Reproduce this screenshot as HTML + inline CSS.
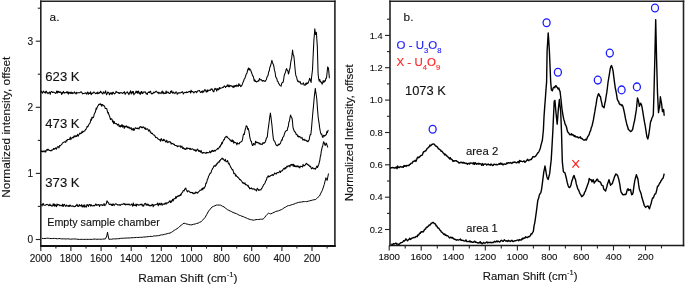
<!DOCTYPE html>
<html><head><meta charset="utf-8"><style>
html,body{margin:0;padding:0;background:#fff;}
svg{display:block;will-change:transform;}
text{font-family:"Liberation Sans",sans-serif;fill:#111;stroke:#111;stroke-width:0.12px;}
</style></head><body>
<svg width="685" height="285" viewBox="0 0 685 285">
<line x1="40.0" y1="1.2" x2="335.7" y2="1.2" stroke="#222" stroke-width="1.6"/>
<line x1="40.8" y1="0.4" x2="40.8" y2="246.8" stroke="#222" stroke-width="1.6"/>
<line x1="334.9" y1="0.4" x2="334.9" y2="246.8" stroke="#222" stroke-width="1.6"/>
<line x1="40.0" y1="246.0" x2="335.7" y2="246.0" stroke="#111" stroke-width="1.9"/>
<line x1="389.2" y1="1.2" x2="684.3" y2="1.2" stroke="#222" stroke-width="1.6"/>
<line x1="390.0" y1="0.4" x2="390.0" y2="246.3" stroke="#222" stroke-width="1.6"/>
<line x1="683.5" y1="0.4" x2="683.5" y2="246.3" stroke="#222" stroke-width="1.6"/>
<line x1="389.2" y1="245.5" x2="684.3" y2="245.5" stroke="#1a1a1a" stroke-width="1.7"/>
<line x1="35.8" y1="239.5" x2="40.8" y2="239.5" stroke="#222" stroke-width="1.1"/>
<text x="33.199999999999996" y="243.0" text-anchor="end" style="font-size:10.1px">0</text>
<line x1="37.8" y1="206.4" x2="40.8" y2="206.4" stroke="#222" stroke-width="1.1"/>
<line x1="35.8" y1="173.4" x2="40.8" y2="173.4" stroke="#222" stroke-width="1.1"/>
<text x="33.199999999999996" y="176.9" text-anchor="end" style="font-size:10.1px">1</text>
<line x1="37.8" y1="140.4" x2="40.8" y2="140.4" stroke="#222" stroke-width="1.1"/>
<line x1="35.8" y1="107.3" x2="40.8" y2="107.3" stroke="#222" stroke-width="1.1"/>
<text x="33.199999999999996" y="110.8" text-anchor="end" style="font-size:10.1px">2</text>
<line x1="37.8" y1="74.2" x2="40.8" y2="74.2" stroke="#222" stroke-width="1.1"/>
<line x1="35.8" y1="41.2" x2="40.8" y2="41.2" stroke="#222" stroke-width="1.1"/>
<text x="33.199999999999996" y="44.7" text-anchor="end" style="font-size:10.1px">3</text>
<line x1="37.8" y1="8.2" x2="40.8" y2="8.2" stroke="#222" stroke-width="1.1"/>
<line x1="40.8" y1="245.6" x2="40.8" y2="251.1" stroke="#222" stroke-width="1.1"/>
<text x="40.8" y="261.5" text-anchor="middle" style="font-size:10px">2000</text>
<line x1="55.9" y1="245.6" x2="55.9" y2="248.6" stroke="#222" stroke-width="1.1"/>
<line x1="70.9" y1="245.6" x2="70.9" y2="251.1" stroke="#222" stroke-width="1.1"/>
<text x="70.9" y="261.5" text-anchor="middle" style="font-size:10px">1800</text>
<line x1="86.0" y1="245.6" x2="86.0" y2="248.6" stroke="#222" stroke-width="1.1"/>
<line x1="101.1" y1="245.6" x2="101.1" y2="251.1" stroke="#222" stroke-width="1.1"/>
<text x="101.1" y="261.5" text-anchor="middle" style="font-size:10px">1600</text>
<line x1="116.1" y1="245.6" x2="116.1" y2="248.6" stroke="#222" stroke-width="1.1"/>
<line x1="131.2" y1="245.6" x2="131.2" y2="251.1" stroke="#222" stroke-width="1.1"/>
<text x="131.2" y="261.5" text-anchor="middle" style="font-size:10px">1400</text>
<line x1="146.3" y1="245.6" x2="146.3" y2="248.6" stroke="#222" stroke-width="1.1"/>
<line x1="161.3" y1="245.6" x2="161.3" y2="251.1" stroke="#222" stroke-width="1.1"/>
<text x="161.3" y="261.5" text-anchor="middle" style="font-size:10px">1200</text>
<line x1="176.4" y1="245.6" x2="176.4" y2="248.6" stroke="#222" stroke-width="1.1"/>
<line x1="191.5" y1="245.6" x2="191.5" y2="251.1" stroke="#222" stroke-width="1.1"/>
<text x="191.5" y="261.5" text-anchor="middle" style="font-size:10px">1000</text>
<line x1="206.5" y1="245.6" x2="206.5" y2="248.6" stroke="#222" stroke-width="1.1"/>
<line x1="221.6" y1="245.6" x2="221.6" y2="251.1" stroke="#222" stroke-width="1.1"/>
<text x="221.6" y="261.5" text-anchor="middle" style="font-size:10px">800</text>
<line x1="236.7" y1="245.6" x2="236.7" y2="248.6" stroke="#222" stroke-width="1.1"/>
<line x1="251.7" y1="245.6" x2="251.7" y2="251.1" stroke="#222" stroke-width="1.1"/>
<text x="251.7" y="261.5" text-anchor="middle" style="font-size:10px">600</text>
<line x1="266.8" y1="245.6" x2="266.8" y2="248.6" stroke="#222" stroke-width="1.1"/>
<line x1="281.9" y1="245.6" x2="281.9" y2="251.1" stroke="#222" stroke-width="1.1"/>
<text x="281.9" y="261.5" text-anchor="middle" style="font-size:10px">400</text>
<line x1="296.9" y1="245.6" x2="296.9" y2="248.6" stroke="#222" stroke-width="1.1"/>
<line x1="312.0" y1="245.6" x2="312.0" y2="251.1" stroke="#222" stroke-width="1.1"/>
<text x="312.0" y="261.5" text-anchor="middle" style="font-size:10px">200</text>
<line x1="327.1" y1="245.6" x2="327.1" y2="248.6" stroke="#222" stroke-width="1.1"/>
<line x1="385.0" y1="229.5" x2="390.0" y2="229.5" stroke="#222" stroke-width="1.1"/>
<text x="382.6" y="232.7" text-anchor="end" style="font-size:9.3px">0.2</text>
<line x1="387.0" y1="213.4" x2="390.0" y2="213.4" stroke="#222" stroke-width="1.1"/>
<line x1="385.0" y1="197.2" x2="390.0" y2="197.2" stroke="#222" stroke-width="1.1"/>
<text x="382.6" y="200.4" text-anchor="end" style="font-size:9.3px">0.4</text>
<line x1="387.0" y1="181.0" x2="390.0" y2="181.0" stroke="#222" stroke-width="1.1"/>
<line x1="385.0" y1="164.8" x2="390.0" y2="164.8" stroke="#222" stroke-width="1.1"/>
<text x="382.6" y="168.0" text-anchor="end" style="font-size:9.3px">0.6</text>
<line x1="387.0" y1="148.6" x2="390.0" y2="148.6" stroke="#222" stroke-width="1.1"/>
<line x1="385.0" y1="132.5" x2="390.0" y2="132.5" stroke="#222" stroke-width="1.1"/>
<text x="382.6" y="135.7" text-anchor="end" style="font-size:9.3px">0.8</text>
<line x1="387.0" y1="116.3" x2="390.0" y2="116.3" stroke="#222" stroke-width="1.1"/>
<line x1="385.0" y1="100.1" x2="390.0" y2="100.1" stroke="#222" stroke-width="1.1"/>
<text x="382.6" y="103.3" text-anchor="end" style="font-size:9.3px">1.0</text>
<line x1="387.0" y1="83.9" x2="390.0" y2="83.9" stroke="#222" stroke-width="1.1"/>
<line x1="385.0" y1="67.7" x2="390.0" y2="67.7" stroke="#222" stroke-width="1.1"/>
<text x="382.6" y="70.9" text-anchor="end" style="font-size:9.3px">1.2</text>
<line x1="387.0" y1="51.6" x2="390.0" y2="51.6" stroke="#222" stroke-width="1.1"/>
<line x1="385.0" y1="35.4" x2="390.0" y2="35.4" stroke="#222" stroke-width="1.1"/>
<text x="382.6" y="38.6" text-anchor="end" style="font-size:9.3px">1.4</text>
<line x1="387.0" y1="19.2" x2="390.0" y2="19.2" stroke="#222" stroke-width="1.1"/>
<line x1="389.2" y1="245.4" x2="389.2" y2="250.4" stroke="#222" stroke-width="1.1"/>
<text x="389.2" y="259.8" text-anchor="middle" style="font-size:9.7px">1800</text>
<line x1="405.2" y1="245.4" x2="405.2" y2="248.4" stroke="#222" stroke-width="1.1"/>
<line x1="421.2" y1="245.4" x2="421.2" y2="250.4" stroke="#222" stroke-width="1.1"/>
<text x="421.2" y="259.8" text-anchor="middle" style="font-size:9.7px">1600</text>
<line x1="437.3" y1="245.4" x2="437.3" y2="248.4" stroke="#222" stroke-width="1.1"/>
<line x1="453.3" y1="245.4" x2="453.3" y2="250.4" stroke="#222" stroke-width="1.1"/>
<text x="453.3" y="259.8" text-anchor="middle" style="font-size:9.7px">1400</text>
<line x1="469.3" y1="245.4" x2="469.3" y2="248.4" stroke="#222" stroke-width="1.1"/>
<line x1="485.3" y1="245.4" x2="485.3" y2="250.4" stroke="#222" stroke-width="1.1"/>
<text x="485.3" y="259.8" text-anchor="middle" style="font-size:9.7px">1200</text>
<line x1="501.3" y1="245.4" x2="501.3" y2="248.4" stroke="#222" stroke-width="1.1"/>
<line x1="517.4" y1="245.4" x2="517.4" y2="250.4" stroke="#222" stroke-width="1.1"/>
<text x="517.4" y="259.8" text-anchor="middle" style="font-size:9.7px">1000</text>
<line x1="533.4" y1="245.4" x2="533.4" y2="248.4" stroke="#222" stroke-width="1.1"/>
<line x1="549.4" y1="245.4" x2="549.4" y2="250.4" stroke="#222" stroke-width="1.1"/>
<text x="549.4" y="259.8" text-anchor="middle" style="font-size:9.7px">800</text>
<line x1="565.4" y1="245.4" x2="565.4" y2="248.4" stroke="#222" stroke-width="1.1"/>
<line x1="581.4" y1="245.4" x2="581.4" y2="250.4" stroke="#222" stroke-width="1.1"/>
<text x="581.4" y="259.8" text-anchor="middle" style="font-size:9.7px">600</text>
<line x1="597.4" y1="245.4" x2="597.4" y2="248.4" stroke="#222" stroke-width="1.1"/>
<line x1="613.5" y1="245.4" x2="613.5" y2="250.4" stroke="#222" stroke-width="1.1"/>
<text x="613.5" y="259.8" text-anchor="middle" style="font-size:9.7px">400</text>
<line x1="629.5" y1="245.4" x2="629.5" y2="248.4" stroke="#222" stroke-width="1.1"/>
<line x1="645.5" y1="245.4" x2="645.5" y2="250.4" stroke="#222" stroke-width="1.1"/>
<text x="645.5" y="259.8" text-anchor="middle" style="font-size:9.7px">200</text>
<line x1="661.5" y1="245.4" x2="661.5" y2="248.4" stroke="#222" stroke-width="1.1"/>
<text x="138.3" y="281.8" style="font-size:11px" textLength="99.3" lengthAdjust="spacingAndGlyphs">Raman Shift (cm<tspan dy="-5.3" style="font-size:7.2px">-1</tspan><tspan dy="5.3">)</tspan></text>
<text x="482.8" y="280.4" style="font-size:10.5px" textLength="94.8" lengthAdjust="spacingAndGlyphs">Raman Shift (cm<tspan dy="-5" style="font-size:7px">-1</tspan><tspan dy="5">)</tspan></text>
<text transform="translate(9.9,127.2) rotate(-90)" text-anchor="middle" style="font-size:11px" textLength="141" lengthAdjust="spacingAndGlyphs">Normalized intensity, offset</text>
<text transform="translate(352.9,132.8) rotate(-90)" text-anchor="middle" style="font-size:10.5px" textLength="137" lengthAdjust="spacingAndGlyphs">Normalized Intensity, offset</text>
<text x="49.6" y="21" style="font-size:11.8px;">a.</text>
<text x="403.6" y="21.1" style="font-size:11.8px;">b.</text>
<text x="45.3" y="81.3" textLength="34.3" lengthAdjust="spacingAndGlyphs" style="font-size:13px;">623 K</text>
<text x="45.3" y="127.6" textLength="34.3" lengthAdjust="spacingAndGlyphs" style="font-size:13px;">473 K</text>
<text x="45.3" y="186.9" textLength="34.3" lengthAdjust="spacingAndGlyphs" style="font-size:13px;">373 K</text>
<text x="47.3" y="225.9" textLength="112.5" lengthAdjust="spacingAndGlyphs" style="font-size:10.3px;" stroke="#111" stroke-width="0.25">Empty sample chamber</text>
<text x="405.0" y="94.9" textLength="40.7" lengthAdjust="spacingAndGlyphs" style="font-size:12.7px;">1073 K</text>
<text x="466" y="154.6" textLength="32.2" lengthAdjust="spacingAndGlyphs" style="font-size:10px;">area 2</text>
<text x="466.3" y="231.7" textLength="31.5" lengthAdjust="spacingAndGlyphs" style="font-size:10px;">area 1</text>
<text x="396.5" y="49.4" style="font-size:11.5px;fill:#2222ff;stroke:#2222ff;stroke-width:0.15px">O - U<tspan dy="4" style="font-size:7.6px">3</tspan><tspan dy="-4">O</tspan><tspan dy="4" style="font-size:7.6px">8</tspan></text>
<text x="396.5" y="66.1" style="font-size:11.5px;fill:#ff2222;stroke:#ff2222;stroke-width:0.15px">X - U<tspan dy="4" style="font-size:7.6px">4</tspan><tspan dy="-4">O</tspan><tspan dy="4" style="font-size:7.6px">9</tspan></text>
<polyline points="41.00,92.20 41.54,91.17 42.09,92.54 42.63,93.07 43.17,91.80 43.71,91.11 44.26,92.20 44.80,92.67 45.34,93.20 45.89,91.24 46.43,91.19 46.97,92.89 47.51,92.71 48.06,93.62 48.60,93.16 49.14,92.24 49.69,92.10 50.23,94.35 50.77,92.11 51.31,91.70 51.86,91.40 52.40,92.46 52.94,92.51 53.49,92.10 54.03,92.35 54.57,92.65 55.11,93.01 55.66,93.36 56.20,92.62 56.74,90.93 57.29,93.05 57.83,91.26 58.37,92.33 58.91,91.23 59.46,92.49 60.00,92.50 60.56,91.84 61.11,92.69 61.67,94.51 62.22,92.47 62.78,93.23 63.33,91.39 63.89,92.27 64.44,93.09 65.00,92.45 65.56,92.84 66.11,92.62 66.67,91.68 67.22,93.02 67.78,91.85 68.33,94.13 68.89,92.12 69.44,93.13 70.00,92.55 70.56,93.36 71.11,92.04 71.67,93.41 72.22,92.46 72.78,93.64 73.33,93.10 73.89,92.69 74.44,91.91 75.00,93.23 75.56,92.98 76.11,93.98 76.67,92.26 77.22,93.06 77.78,93.02 78.33,92.83 78.89,92.77 79.44,92.75 80.00,92.60 80.56,92.09 81.11,91.74 81.67,92.27 82.22,93.11 82.78,93.90 83.33,93.45 83.89,93.51 84.44,93.28 85.00,93.22 85.56,92.78 86.11,93.29 86.67,94.14 87.22,92.36 87.78,92.05 88.33,94.31 88.89,92.85 89.44,93.47 90.00,93.39 90.56,91.69 91.11,94.66 91.67,94.17 92.22,92.81 92.78,93.30 93.33,92.77 93.89,91.92 94.44,92.58 95.00,92.99 95.56,93.63 96.11,93.28 96.67,92.73 97.22,93.84 97.78,92.04 98.33,93.37 98.89,93.64 99.44,92.45 100.00,92.70 100.56,91.18 101.11,91.94 101.67,92.91 102.22,93.16 102.78,94.03 103.33,91.86 103.89,92.72 104.44,93.27 105.00,92.59 105.56,90.73 106.11,93.42 106.67,94.70 107.22,93.59 107.78,91.96 108.33,92.39 108.89,92.93 109.44,94.75 110.00,93.27 110.56,92.85 111.11,94.08 111.67,92.69 112.22,94.34 112.78,92.18 113.33,92.36 113.89,93.38 114.44,93.98 115.00,93.33 115.56,93.03 116.11,91.23 116.67,92.18 117.22,92.27 117.78,92.34 118.33,93.29 118.89,92.51 119.44,93.47 120.00,92.80 120.56,92.87 121.11,92.52 121.67,92.90 122.22,93.16 122.78,93.53 123.33,92.39 123.89,92.60 124.44,91.64 125.00,94.16 125.56,94.03 126.11,92.65 126.67,92.39 127.22,91.75 127.78,92.94 128.33,92.98 128.89,94.65 129.44,93.01 130.00,92.14 130.56,90.80 131.11,94.00 131.67,92.96 132.22,91.43 132.78,92.95 133.33,91.43 133.89,94.80 134.44,93.75 135.00,93.29 135.56,92.65 136.11,90.98 136.67,92.69 137.22,91.48 137.78,93.31 138.33,90.98 138.89,92.03 139.44,93.84 140.00,92.80 140.56,94.19 141.11,91.78 141.67,91.48 142.22,93.53 142.78,93.50 143.33,91.93 143.89,92.17 144.44,92.17 145.00,91.74 145.56,92.17 146.11,93.80 146.67,93.32 147.22,94.48 147.78,92.65 148.33,92.60 148.89,91.88 149.44,92.60 150.00,91.58 150.56,91.18 151.11,93.28 151.67,93.91 152.22,93.39 152.78,93.80 153.33,92.88 153.89,92.05 154.44,92.73 155.00,92.33 155.56,91.70 156.11,91.20 156.67,91.37 157.22,92.62 157.78,92.75 158.33,92.21 158.89,93.83 159.44,92.76 160.00,92.60 160.56,93.10 161.11,93.65 161.67,91.92 162.22,90.95 162.78,93.27 163.33,92.05 163.89,93.75 164.44,92.93 165.00,93.51 165.56,93.30 166.11,90.89 166.67,93.28 167.22,92.10 167.78,92.04 168.33,92.31 168.89,93.34 169.44,93.45 170.00,93.56 170.56,91.29 171.11,92.21 171.67,90.72 172.22,92.64 172.78,93.24 173.33,92.08 173.89,92.95 174.44,92.94 175.00,93.61 175.56,92.06 176.11,92.06 176.67,92.12 177.22,94.26 177.78,93.70 178.33,92.68 178.89,92.98 179.44,92.89 180.00,92.80 180.56,92.94 181.11,92.56 181.67,92.42 182.22,91.61 182.78,92.10 183.33,94.02 183.89,93.04 184.44,92.61 185.00,92.34 185.56,92.55 186.11,92.76 186.67,91.88 187.22,92.57 187.78,92.58 188.33,91.71 188.89,91.64 189.44,91.43 190.00,91.35 190.56,92.98 191.11,90.19 191.67,91.93 192.22,91.61 192.78,91.57 193.33,92.15 193.89,92.99 194.44,92.07 195.00,91.86 195.56,91.42 196.11,91.80 196.67,92.66 197.22,91.52 197.78,90.85 198.33,90.72 198.89,90.82 199.44,90.55 200.00,91.70 200.56,92.57 201.11,91.87 201.67,91.30 202.22,92.67 202.78,90.81 203.33,91.94 203.89,91.91 204.44,89.85 205.00,89.78 205.56,90.24 206.11,91.74 206.67,92.00 207.22,89.79 207.78,91.66 208.33,90.37 208.89,90.30 209.44,90.10 210.00,90.50 210.56,90.13 211.11,88.77 211.67,89.37 212.22,89.07 212.78,90.44 213.33,91.71 213.89,91.84 214.44,89.46 215.00,88.19 215.56,89.21 216.11,88.66 216.67,91.05 217.22,89.76 217.78,88.56 218.33,89.88 218.89,89.44 219.44,87.51 220.00,88.80 220.56,88.08 221.11,88.06 221.67,88.02 222.22,87.85 222.78,87.18 223.33,87.36 223.89,86.44 224.44,85.90 225.00,86.40 225.56,87.62 226.11,86.57 226.67,86.57 227.22,84.78 227.78,85.93 228.33,86.70 228.89,84.84 229.44,86.80 230.00,85.80 230.56,85.54 231.11,86.28 231.67,85.89 232.22,86.25 232.78,87.16 233.33,85.86 233.89,87.60 234.44,85.67 235.00,86.40 235.56,85.43 236.11,86.65 236.67,84.96 237.22,85.37 237.78,86.28 238.33,86.36 238.89,83.65 239.44,85.41 240.00,84.80 240.63,86.60 241.27,86.22 241.90,85.40 242.48,83.84 243.06,82.17 243.64,81.07 244.22,78.98 244.80,78.60 245.35,76.78 245.90,75.24 246.45,73.68 247.00,73.21 247.55,70.40 248.10,69.00 248.60,67.94 249.10,70.25 249.60,68.63 250.10,69.34 250.60,69.90 251.23,71.72 251.87,73.47 252.50,75.70 253.08,76.01 253.66,77.81 254.24,81.04 254.82,79.82 255.40,81.50 255.98,81.18 256.56,82.06 257.14,81.53 257.72,81.35 258.30,80.50 258.88,81.05 259.46,78.47 260.04,79.23 260.62,79.89 261.20,79.60 261.76,80.30 262.31,81.24 262.87,80.81 263.43,80.48 263.99,80.99 264.54,81.05 265.10,81.50 265.68,80.55 266.26,79.75 266.84,77.73 267.42,76.17 268.00,75.70 268.63,72.07 269.27,70.83 269.90,67.00 270.40,66.41 270.90,64.49 271.40,62.70 271.90,60.30 272.53,62.91 273.17,64.10 273.80,66.00 274.43,70.13 275.07,72.24 275.70,76.70 276.28,77.87 276.86,78.76 277.44,81.34 278.02,81.57 278.60,83.40 279.23,84.11 279.87,85.34 280.50,85.80 281.10,86.13 281.70,83.48 282.30,82.53 282.90,82.50 283.53,80.29 284.17,75.76 284.80,73.80 285.43,72.45 286.07,69.85 286.70,68.60 287.27,70.31 287.83,70.65 288.40,74.00 288.93,72.71 289.47,69.77 290.00,68.30 290.60,63.34 291.20,59.90 291.67,58.40 292.13,53.97 292.60,50.10 293.07,54.43 293.53,55.11 294.00,57.10 294.47,61.94 294.93,67.46 295.40,72.50 295.95,75.99 296.50,76.73 297.05,79.26 297.60,81.00 298.12,81.79 298.65,80.93 299.18,82.16 299.70,81.97 300.23,81.69 300.75,83.84 301.28,84.02 301.80,83.80 302.37,84.10 302.93,83.50 303.50,82.80 304.07,85.15 304.63,84.88 305.20,85.20 305.76,83.37 306.32,84.35 306.88,82.71 307.44,83.58 308.00,83.20 308.57,81.65 309.13,80.17 309.70,78.20 310.17,79.78 310.63,81.15 311.10,82.40 311.57,77.20 312.03,73.61 312.50,69.70 312.97,59.47 313.43,49.90 313.90,40.30 314.35,34.78 314.80,28.80 315.60,34.60 316.40,32.30 316.85,39.63 317.30,45.90 318.10,74.00 318.65,78.89 319.20,81.00 319.77,79.35 320.35,82.04 320.93,81.88 321.50,82.40 322.06,84.21 322.62,82.95 323.18,80.63 323.74,82.26 324.30,81.80 324.85,80.46 325.40,80.84 325.95,78.20 326.50,78.20 327.10,72.46 327.70,66.90 328.50,68.30 328.95,73.14 329.40,78.20" fill="none" stroke="#000" stroke-width="1.05" stroke-linejoin="round" stroke-opacity="1.0"/>
<polyline points="41.20,152.00 41.76,150.74 42.33,151.87 42.89,151.32 43.45,151.01 44.02,151.97 44.58,151.12 45.15,150.71 45.71,152.14 46.27,150.23 46.84,149.49 47.40,150.30 47.96,149.12 48.52,149.64 49.08,150.41 49.65,150.43 50.21,150.52 50.77,150.93 51.33,150.70 51.89,149.76 52.45,150.16 53.02,149.52 53.58,148.46 54.14,149.40 54.70,148.60 55.23,148.40 55.76,147.90 56.29,149.32 56.81,148.09 57.34,146.84 57.87,146.87 58.40,146.60 58.96,147.95 59.53,145.56 60.09,145.87 60.65,145.34 61.22,144.81 61.78,144.42 62.35,143.15 62.91,142.72 63.47,142.51 64.04,141.91 64.60,141.70 65.17,142.08 65.74,142.37 66.31,140.20 66.88,141.03 67.45,139.56 68.02,139.50 68.58,139.57 69.15,139.55 69.72,138.84 70.29,137.05 70.86,139.69 71.43,138.12 72.00,138.00 72.56,137.27 73.12,138.00 73.68,136.73 74.25,135.80 74.81,137.00 75.37,136.66 75.93,135.41 76.49,136.42 77.05,135.77 77.62,134.32 78.18,136.27 78.74,134.83 79.30,134.30 79.86,133.02 80.43,133.80 80.99,133.10 81.55,133.31 82.12,131.07 82.68,132.48 83.25,131.95 83.81,131.32 84.37,130.81 84.94,130.91 85.50,129.40 86.04,129.18 86.59,127.90 87.13,126.33 87.68,127.01 88.22,126.09 88.77,124.74 89.31,123.80 89.86,123.42 90.40,122.00 90.93,119.16 91.46,120.20 91.99,117.07 92.51,118.06 93.04,117.65 93.57,117.25 94.10,114.70 94.61,113.15 95.13,112.62 95.64,111.00 96.16,108.10 96.67,109.16 97.19,107.35 97.70,106.10 98.20,105.69 98.70,104.41 99.20,104.61 99.70,104.20 100.20,103.60 100.73,104.91 101.27,104.43 101.80,106.25 102.33,104.45 102.87,104.85 103.40,105.30 103.98,105.94 104.56,105.99 105.14,108.43 105.72,108.40 106.30,108.50 106.81,108.78 107.33,111.08 107.84,113.11 108.36,112.35 108.87,114.79 109.39,115.72 109.90,117.10 110.44,119.59 110.99,118.84 111.53,118.89 112.08,119.46 112.62,122.05 113.17,120.91 113.71,123.72 114.26,121.44 114.80,123.30 115.34,123.45 115.89,123.68 116.43,123.59 116.98,124.24 117.52,125.21 118.07,124.42 118.61,124.09 119.16,126.51 119.70,125.70 120.27,127.01 120.84,125.46 121.41,126.37 121.98,124.42 122.55,127.20 123.12,125.49 123.68,126.22 124.25,128.46 124.82,125.93 125.39,127.06 125.96,126.34 126.53,125.87 127.10,127.40 127.67,126.69 128.24,127.95 128.81,126.88 129.38,127.59 129.95,128.77 130.52,128.24 131.08,127.50 131.65,129.83 132.22,128.91 132.79,130.06 133.36,128.32 133.93,130.59 134.50,129.40 135.07,128.20 135.64,127.70 136.21,128.53 136.78,128.38 137.35,128.68 137.92,127.85 138.48,128.58 139.05,128.93 139.62,127.20 140.19,126.45 140.76,127.01 141.33,127.76 141.90,126.90 142.45,127.79 143.01,127.12 143.56,126.85 144.12,127.83 144.67,128.82 145.23,127.74 145.78,129.53 146.34,128.93 146.89,129.20 147.45,128.72 148.00,129.40 148.54,131.03 149.09,130.56 149.63,129.91 150.18,132.25 150.72,131.83 151.27,133.54 151.81,133.38 152.36,133.30 152.90,134.30 153.44,134.96 153.99,134.93 154.53,135.16 155.08,136.31 155.62,137.42 156.17,137.32 156.71,137.69 157.26,137.82 157.80,138.70 158.36,139.34 158.93,139.27 159.49,139.97 160.05,139.67 160.62,141.20 161.18,138.50 161.75,139.84 162.31,140.46 162.87,140.90 163.44,139.18 164.00,140.50 164.55,139.77 165.11,140.86 165.66,141.89 166.22,142.11 166.77,140.27 167.33,141.72 167.88,142.71 168.44,142.01 168.99,141.37 169.55,141.80 170.10,142.50 170.63,141.82 171.17,144.10 171.70,143.30 172.23,143.49 172.77,143.47 173.30,144.36 173.83,144.08 174.37,144.35 174.90,145.40 175.44,145.48 175.99,145.41 176.53,146.02 177.08,145.86 177.62,146.74 178.17,145.86 178.71,146.18 179.26,146.23 179.80,146.10 180.34,145.79 180.89,147.61 181.43,146.53 181.98,146.02 182.52,148.49 183.07,148.30 183.61,147.64 184.16,149.09 184.70,148.60 185.27,149.42 185.84,149.25 186.41,147.84 186.98,148.92 187.55,148.02 188.12,148.39 188.68,148.47 189.25,148.28 189.82,149.36 190.39,148.41 190.96,149.54 191.53,149.23 192.10,149.10 192.66,148.77 193.23,149.48 193.79,149.99 194.35,150.45 194.92,149.48 195.48,151.13 196.05,150.34 196.61,150.97 197.17,149.07 197.74,149.40 198.30,150.30 198.85,151.48 199.41,150.59 199.96,151.35 200.52,152.13 201.07,150.31 201.63,151.99 202.18,153.36 202.74,152.69 203.29,152.36 203.85,152.95 204.40,152.70 204.94,152.66 205.49,153.17 206.03,153.50 206.58,152.25 207.12,152.79 207.67,152.50 208.21,152.76 208.76,152.76 209.30,152.00 209.86,151.11 210.43,152.75 210.99,152.42 211.55,150.82 212.12,151.36 212.68,150.36 213.25,151.17 213.81,151.56 214.37,150.32 214.94,150.53 215.50,151.00 216.01,149.90 216.53,149.58 217.04,149.06 217.56,148.38 218.07,149.18 218.59,148.12 219.10,147.80 219.63,146.33 220.16,146.85 220.69,144.78 221.21,145.04 221.74,142.52 222.27,143.69 222.80,141.70 223.33,140.61 223.86,139.46 224.39,139.73 224.91,137.62 225.44,137.04 225.97,137.29 226.50,136.30 227.00,136.44 227.50,137.60 228.00,137.88 228.50,138.45 229.00,138.70 229.53,139.26 230.06,140.14 230.59,140.02 231.11,141.30 231.64,141.60 232.17,139.79 232.70,141.70 233.21,140.55 233.73,143.27 234.24,141.90 234.76,142.56 235.27,142.50 235.79,142.97 236.30,142.90 236.88,144.83 237.46,142.79 238.04,143.58 238.62,143.73 239.20,143.90 239.76,142.54 240.32,142.14 240.88,142.04 241.44,141.68 242.00,141.10 242.56,139.47 243.12,135.70 243.68,134.04 244.24,134.56 244.80,131.30 245.27,129.32 245.73,128.23 246.20,125.70 246.70,126.11 247.20,126.58 247.70,129.46 248.20,128.50 248.75,130.38 249.30,133.43 249.85,137.45 250.40,139.70 250.90,141.17 251.40,141.32 251.90,144.11 252.40,145.40 252.93,145.58 253.46,143.43 253.99,143.76 254.51,144.38 255.04,144.83 255.57,141.16 256.10,142.50 256.62,142.17 257.15,142.90 257.68,142.35 258.20,142.53 258.73,143.02 259.25,143.97 259.78,142.93 260.30,143.90 260.82,144.42 261.35,144.22 261.88,144.06 262.40,144.41 262.93,142.65 263.45,142.84 263.98,143.47 264.50,142.50 265.06,142.38 265.62,141.01 266.18,138.82 266.74,137.67 267.30,136.90 267.93,130.78 268.57,126.33 269.20,121.50 269.80,116.64 270.40,113.10 270.95,116.95 271.50,121.50 272.00,125.79 272.50,131.27 273.00,135.84 273.50,139.70 274.10,140.83 274.70,141.13 275.30,143.11 275.90,144.62 276.50,145.40 277.07,145.83 277.63,145.09 278.20,145.30 278.77,143.92 279.33,144.68 279.90,143.90 280.47,143.33 281.03,141.32 281.60,139.85 282.17,140.21 282.73,137.33 283.30,136.90 283.85,136.05 284.40,133.92 284.95,132.46 285.50,131.30 286.07,130.87 286.63,130.46 287.20,130.50 287.77,127.70 288.33,126.29 288.90,122.10 289.47,120.91 290.03,117.36 290.60,115.10 291.07,116.42 291.53,117.69 292.00,117.90 292.47,121.33 292.93,126.80 293.40,129.10 293.96,130.27 294.52,131.84 295.08,131.76 295.64,132.75 296.20,134.70 296.72,134.31 297.25,134.93 297.77,136.57 298.30,135.88 298.82,137.15 299.35,136.51 299.88,136.45 300.40,137.50 300.92,138.02 301.45,137.95 301.98,137.34 302.50,139.01 303.02,140.25 303.55,139.54 304.08,139.14 304.60,140.40 305.17,140.08 305.73,139.96 306.30,140.94 306.87,140.63 307.43,141.51 308.00,141.80 308.56,140.54 309.12,140.00 309.68,136.68 310.24,134.58 310.80,134.70 311.37,129.91 311.93,122.93 312.50,116.50 312.97,111.08 313.43,106.58 313.90,101.00 314.37,96.12 314.83,92.37 315.30,88.40 315.77,92.21 316.23,94.72 316.70,98.20 317.17,104.43 317.63,110.76 318.10,116.50 318.60,120.12 319.10,123.34 319.60,127.42 320.10,130.50 320.66,132.94 321.22,134.30 321.78,134.05 322.34,136.71 322.90,137.50 323.46,135.51 324.02,135.32 324.58,136.15 325.14,135.70 325.70,134.70 326.26,134.83 326.82,131.53 327.38,132.73 327.94,130.55 328.50,130.00" fill="none" stroke="#000" stroke-width="1.05" stroke-linejoin="round" stroke-opacity="1.0"/>
<polyline points="41.00,204.70 41.55,204.65 42.11,205.90 42.66,204.15 43.22,203.41 43.77,205.00 44.33,205.31 44.88,205.15 45.43,205.27 45.99,204.81 46.54,204.47 47.10,204.37 47.65,204.80 48.21,204.70 48.76,205.72 49.31,205.51 49.87,204.08 50.42,205.60 50.98,205.06 51.53,205.96 52.09,206.28 52.64,205.57 53.19,203.79 53.75,205.68 54.30,203.99 54.86,206.42 55.41,204.72 55.97,205.10 56.52,206.67 57.07,203.92 57.63,205.32 58.18,204.49 58.74,204.93 59.29,204.73 59.85,205.89 60.40,205.30 60.95,205.17 61.51,205.69 62.06,205.94 62.62,204.14 63.17,206.56 63.72,205.31 64.28,204.23 64.83,205.03 65.39,206.23 65.94,206.35 66.49,205.06 67.05,205.69 67.60,205.82 68.16,206.45 68.71,205.57 69.26,206.45 69.82,205.02 70.37,205.17 70.93,206.26 71.48,206.33 72.04,205.75 72.59,206.27 73.14,205.99 73.70,206.44 74.25,206.77 74.81,206.29 75.36,206.54 75.91,205.61 76.47,205.50 77.02,204.12 77.58,206.29 78.13,206.02 78.68,206.43 79.24,204.57 79.79,205.67 80.35,205.64 80.90,206.00 81.45,204.64 81.99,206.71 82.54,206.91 83.09,204.92 83.63,206.22 84.18,207.18 84.73,204.84 85.27,206.51 85.82,206.94 86.37,207.11 86.91,204.55 87.46,204.74 88.01,205.69 88.55,206.42 89.10,204.46 89.65,204.81 90.19,204.48 90.74,206.17 91.29,204.83 91.83,205.67 92.38,205.68 92.93,206.04 93.47,205.42 94.02,205.31 94.57,205.91 95.11,205.34 95.66,203.93 96.21,204.46 96.75,205.54 97.30,204.70 97.87,204.89 98.43,204.49 99.00,204.94 99.57,206.45 100.13,204.68 100.70,205.09 101.27,205.05 101.83,204.47 102.40,205.60 102.97,205.33 103.53,204.96 104.10,203.57 104.67,205.60 105.23,205.20 105.80,204.50 106.37,203.56 106.93,200.77 107.50,201.60 108.07,202.61 108.63,202.67 109.20,204.50 109.75,204.40 110.30,204.17 110.84,203.91 111.39,205.35 111.94,204.64 112.49,205.51 113.03,203.77 113.58,204.37 114.13,205.58 114.68,204.76 115.23,203.92 115.77,203.79 116.32,204.01 116.87,204.40 117.42,205.00 117.97,204.56 118.51,205.03 119.06,205.09 119.61,204.52 120.16,205.43 120.70,204.99 121.25,204.25 121.80,204.30 122.35,204.27 122.89,204.40 123.44,203.85 123.99,203.39 124.53,204.48 125.08,204.07 125.63,204.94 126.17,204.03 126.72,204.59 127.27,204.68 127.81,204.16 128.36,204.70 128.91,203.99 129.45,204.24 130.00,205.22 130.55,204.91 131.09,204.61 131.64,204.01 132.19,205.19 132.73,206.22 133.28,202.96 133.83,205.50 134.37,204.86 134.92,205.57 135.47,205.64 136.01,203.93 136.56,206.11 137.11,204.29 137.65,204.58 138.20,204.70 138.75,205.30 139.31,204.77 139.86,205.08 140.42,204.49 140.97,204.11 141.53,204.96 142.08,204.12 142.64,206.06 143.19,205.22 143.75,206.16 144.30,204.10 144.85,203.48 145.41,203.35 145.96,204.87 146.52,204.18 147.07,205.50 147.63,204.10 148.18,204.18 148.74,205.52 149.29,205.02 149.85,205.89 150.40,205.30 150.96,205.95 151.52,205.53 152.08,204.24 152.64,204.45 153.20,206.78 153.75,204.82 154.31,205.17 154.87,204.97 155.43,204.79 155.99,204.61 156.55,204.24 157.11,204.21 157.67,202.97 158.23,205.80 158.79,204.34 159.35,203.33 159.90,204.71 160.46,204.76 161.02,203.04 161.58,203.70 162.14,205.22 162.70,203.90 163.25,204.26 163.81,204.03 164.36,204.33 164.92,203.30 165.47,203.02 166.03,204.36 166.58,202.82 167.14,202.76 167.69,203.17 168.25,202.55 168.80,202.30 169.40,200.91 170.00,201.30 170.53,202.59 171.06,200.77 171.59,201.95 172.12,200.66 172.65,199.27 173.18,200.91 173.71,199.29 174.24,198.47 174.77,198.84 175.30,198.50 175.88,196.43 176.46,197.97 177.03,196.61 177.61,196.52 178.19,195.55 178.77,196.31 179.34,195.60 179.92,195.70 180.50,194.30 181.02,195.10 181.54,193.42 182.07,192.69 182.59,192.27 183.11,190.80 183.63,190.42 184.16,190.85 184.68,189.00 185.20,189.00 185.74,187.98 186.28,189.65 186.82,190.54 187.36,191.91 187.90,191.10 188.43,190.87 188.97,190.95 189.50,192.01 190.03,192.06 190.57,192.63 191.10,192.60 191.62,192.35 192.15,192.99 192.68,192.45 193.20,193.75 193.72,193.27 194.25,193.58 194.78,192.86 195.30,193.20 195.83,191.89 196.35,192.76 196.88,192.45 197.40,193.09 197.93,192.72 198.45,191.68 198.97,191.41 199.50,191.10 200.04,190.02 200.57,190.37 201.11,190.18 201.65,189.30 202.19,188.39 202.73,189.85 203.26,187.74 203.80,188.00 204.32,188.30 204.83,186.87 205.35,186.08 205.87,183.15 206.38,183.23 206.90,181.60 207.43,179.19 207.97,178.59 208.50,176.28 209.03,175.50 209.57,174.28 210.10,173.20 210.62,173.14 211.13,172.35 211.65,170.34 212.17,169.52 212.68,168.12 213.20,167.90 213.74,166.56 214.27,165.53 214.81,166.23 215.35,166.33 215.89,164.75 216.43,165.11 216.96,163.40 217.50,163.70 218.02,162.29 218.53,161.95 219.05,162.36 219.57,160.56 220.08,160.86 220.60,159.50 221.13,159.30 221.67,158.71 222.20,158.01 222.73,159.20 223.27,158.82 223.80,159.50 224.33,160.62 224.87,160.61 225.40,159.35 225.93,161.62 226.47,161.73 227.00,161.60 227.52,160.50 228.03,162.26 228.55,163.95 229.07,163.23 229.58,164.60 230.10,165.80 230.63,167.15 231.17,167.82 231.70,168.86 232.23,169.87 232.77,169.60 233.30,171.10 233.87,173.73 234.43,173.23 235.00,173.60 235.53,176.02 236.05,174.86 236.57,176.20 237.10,176.40 237.63,177.24 238.17,177.38 238.70,178.25 239.23,178.73 239.77,179.67 240.30,179.50 240.88,180.40 241.46,180.78 242.03,181.70 242.61,183.03 243.19,182.56 243.77,183.56 244.34,183.79 244.92,182.76 245.50,184.80 246.03,184.55 246.56,184.91 247.09,184.93 247.62,185.90 248.15,185.40 248.68,187.35 249.21,187.11 249.74,188.84 250.27,188.57 250.80,188.60 251.33,187.83 251.86,188.79 252.39,189.14 252.92,188.74 253.45,189.13 253.98,188.72 254.51,189.14 255.04,190.07 255.57,189.75 256.10,190.10 256.63,190.94 257.16,188.23 257.69,189.10 258.22,189.27 258.75,190.54 259.28,190.11 259.81,189.69 260.34,189.70 260.87,190.03 261.40,188.60 261.92,188.37 262.43,186.87 262.95,186.39 263.47,184.90 263.98,184.48 264.50,183.80 265.03,183.00 265.57,181.20 266.10,180.53 266.63,178.98 267.17,177.17 267.70,177.00 268.22,175.68 268.75,177.05 269.27,176.28 269.80,176.63 270.32,175.66 270.85,175.46 271.38,175.41 271.90,174.90 272.43,174.48 272.96,175.58 273.49,175.08 274.02,174.41 274.55,173.09 275.08,173.27 275.61,173.63 276.14,174.15 276.67,173.02 277.20,172.80 277.73,172.61 278.26,172.82 278.79,172.30 279.32,171.88 279.85,170.92 280.38,172.51 280.91,171.32 281.44,170.76 281.97,170.86 282.50,170.70 283.08,169.29 283.66,168.60 284.23,168.10 284.81,169.32 285.39,167.60 285.97,168.28 286.54,166.86 287.12,165.99 287.70,166.90 288.24,166.13 288.77,165.71 289.31,165.42 289.85,166.94 290.39,165.45 290.93,164.52 291.46,165.31 292.00,164.30 292.52,164.44 293.03,165.98 293.55,164.22 294.07,166.61 294.58,165.32 295.10,166.50 295.62,166.05 296.15,166.87 296.68,165.99 297.20,165.66 297.73,166.71 298.25,166.88 298.78,165.96 299.30,167.30 299.84,167.87 300.38,166.31 300.91,166.27 301.45,166.38 301.99,166.41 302.53,166.99 303.06,164.35 303.60,165.80 304.13,165.46 304.67,165.78 305.20,164.94 305.73,164.35 306.27,163.20 306.80,163.70 307.34,164.49 307.88,164.38 308.41,165.38 308.95,164.99 309.49,166.09 310.03,166.74 310.56,166.25 311.10,167.90 311.62,168.87 312.15,168.16 312.68,167.44 313.20,168.41 313.73,168.88 314.25,168.69 314.78,168.34 315.30,169.30 315.86,168.45 316.42,166.90 316.98,165.99 317.54,167.48 318.10,165.90 318.65,164.90 319.20,162.73 319.75,160.73 320.30,156.70 320.80,155.26 321.30,151.04 321.80,148.84 322.30,146.80 322.77,145.98 323.23,143.11 323.70,141.80 324.17,142.73 324.63,144.19 325.10,145.40 325.57,145.09 326.03,143.09 326.50,143.50 326.97,144.82 327.43,146.48 327.90,147.40" fill="none" stroke="#000" stroke-width="1.05" stroke-linejoin="round" stroke-opacity="1.0"/>
<polyline points="42.00,238.30 43.53,238.49 45.07,238.49 46.60,238.23 48.13,238.19 49.67,238.45 51.20,238.60 52.73,238.51 54.27,238.38 55.80,238.54 57.33,238.82 58.87,238.49 60.40,238.70 61.86,238.88 63.33,238.85 64.79,238.89 66.26,238.97 67.72,238.84 69.19,238.94 70.65,239.23 72.11,238.99 73.58,239.03 75.04,238.95 76.51,239.11 77.97,239.31 79.44,239.42 80.90,239.30 82.36,239.38 83.81,239.38 85.27,239.37 86.73,239.34 88.19,239.43 89.64,239.28 91.10,239.44 92.56,239.29 94.01,239.10 95.47,239.14 96.93,239.28 98.39,239.24 99.84,239.15 101.30,239.30 102.67,239.07 104.03,239.06 105.40,238.90 106.80,236.00 107.50,232.20 108.20,236.00 108.90,239.30 110.33,239.24 111.77,239.19 113.20,238.86 114.63,238.90 116.07,238.88 117.50,238.68 118.93,238.75 120.37,238.35 121.80,238.30 123.26,238.23 124.71,238.18 126.17,238.04 127.63,238.01 129.09,237.97 130.54,237.87 132.00,237.74 133.46,237.67 134.91,237.65 136.37,237.39 137.83,237.54 139.29,237.31 140.74,237.34 142.20,237.30 143.69,237.01 145.18,237.00 146.67,236.79 148.16,236.65 149.65,236.43 151.15,236.39 152.64,236.42 154.13,235.84 155.62,235.97 157.11,235.78 158.60,235.60 160.03,235.24 161.45,234.82 162.88,234.86 164.30,234.37 165.72,234.16 167.15,233.68 168.57,233.32 170.00,233.10 171.40,232.36 172.80,231.43 174.20,230.42 175.60,229.55 177.00,228.70 178.40,227.66 179.80,226.36 181.20,225.24 182.60,224.22 184.00,223.10 185.57,223.68 187.15,224.11 188.73,224.47 190.30,224.90 191.93,224.77 193.57,224.28 195.20,224.00 196.62,223.41 198.05,223.24 199.47,222.36 200.90,221.90 202.30,220.48 203.70,218.97 205.10,217.40 206.85,214.27 208.60,211.10 210.35,209.03 212.10,206.90 213.50,206.39 214.90,205.77 216.30,205.10 217.70,205.03 219.10,205.10 220.50,205.10 222.25,206.17 224.00,206.90 225.75,208.39 227.50,209.70 228.90,210.35 230.30,211.11 231.70,211.68 233.10,212.50 235.00,213.20 236.40,213.66 237.80,214.38 239.20,215.26 240.60,215.60 242.00,216.30 243.40,216.62 244.80,217.41 246.20,217.90 247.60,218.63 249.00,219.10 250.40,219.62 251.80,219.79 253.20,220.20 254.60,219.98 256.00,219.62 257.40,219.50 258.82,219.55 260.25,219.21 261.68,219.21 263.10,219.10 264.50,217.75 265.90,215.80 267.15,214.39 268.40,213.20 269.60,213.57 270.80,213.90 272.43,213.10 274.07,212.36 275.70,211.50 277.10,211.11 278.50,210.79 279.90,210.21 281.30,209.70 282.70,208.90 284.10,207.80 285.50,207.13 286.90,206.20 288.30,205.61 289.70,205.50 291.10,204.92 292.50,204.50 293.98,204.10 295.45,203.39 296.92,202.96 298.40,202.40 299.93,202.18 301.47,202.00 303.00,201.70 304.27,201.66 305.53,201.56 306.80,201.60 308.22,201.22 309.63,200.85 311.05,200.49 312.47,200.12 313.88,199.75 315.30,199.60 316.70,198.64 318.10,197.11 319.50,196.00 320.90,193.06 322.30,190.40 324.20,184.70 325.90,177.70 327.10,180.50 328.50,173.50" fill="none" stroke="#000" stroke-width="1.0" stroke-linejoin="round" stroke-opacity="1.0"/>
<polyline points="390.00,167.90 390.70,167.95 391.40,167.81 392.10,167.76 392.80,167.43 393.50,167.81 394.20,167.67 394.90,168.24 395.60,167.60 396.30,166.94 397.00,168.72 397.70,166.03 398.40,167.27 399.10,167.65 399.80,166.94 400.50,166.54 401.20,166.85 401.90,167.19 402.60,166.70 403.30,167.23 404.00,165.47 404.70,166.29 405.40,165.62 406.10,166.41 406.80,165.35 407.50,165.55 408.20,165.30 408.90,165.52 409.60,164.34 410.30,164.26 411.00,163.29 411.70,163.18 412.40,163.00 413.10,161.30 413.80,161.36 414.50,161.01 415.20,160.35 415.90,161.43 416.60,159.70 417.32,157.70 418.03,157.00 418.75,157.68 419.47,157.20 420.18,156.24 420.90,155.50 421.60,155.36 422.30,155.15 423.00,152.93 423.70,151.68 424.40,151.60 425.10,151.00 425.80,150.85 426.50,149.63 427.20,148.49 427.90,148.01 428.60,147.10 429.30,146.71 430.00,145.06 430.70,145.81 431.40,145.10 432.10,144.21 432.80,144.18 433.50,144.00 434.20,144.18 434.90,145.05 435.60,146.06 436.30,146.10 437.00,146.63 437.70,147.54 438.40,148.68 439.10,149.12 439.80,149.60 440.50,149.84 441.20,151.35 441.90,151.32 442.60,152.06 443.30,153.01 444.00,153.60 444.70,155.04 445.40,154.29 446.10,155.18 446.80,156.11 447.50,156.15 448.20,157.30 448.90,157.81 449.60,158.95 450.30,157.68 451.00,159.21 451.70,159.26 452.40,160.20 453.05,161.48 453.70,160.80 454.35,160.95 455.00,160.80 455.66,160.91 456.32,160.62 456.99,161.48 457.65,161.86 458.31,161.90 458.98,163.14 459.64,162.78 460.30,162.60 461.01,162.14 461.72,162.54 462.43,163.03 463.14,162.27 463.85,162.95 464.55,162.80 465.26,163.36 465.97,163.44 466.68,163.10 467.39,164.29 468.10,163.70 468.82,163.30 469.54,164.00 470.25,162.98 470.97,163.01 471.69,163.17 472.41,163.27 473.13,163.94 473.85,162.59 474.56,164.37 475.28,162.70 476.00,163.40 476.72,164.30 477.44,163.64 478.15,163.33 478.87,164.17 479.59,163.50 480.31,163.86 481.03,163.98 481.75,165.35 482.46,163.54 483.18,165.28 483.90,164.30 484.62,164.14 485.34,163.93 486.05,164.09 486.77,165.13 487.49,164.33 488.21,164.04 488.93,164.87 489.65,164.71 490.36,165.20 491.08,163.98 491.80,164.70 492.52,165.48 493.24,165.29 493.95,164.15 494.67,164.33 495.39,164.75 496.11,164.30 496.83,164.86 497.55,164.70 498.26,164.32 498.98,163.64 499.70,164.30 500.42,163.02 501.14,164.26 501.85,163.29 502.57,164.57 503.29,164.86 504.01,163.84 504.73,164.18 505.45,164.31 506.16,163.99 506.88,162.80 507.60,163.40 508.31,162.69 509.02,162.87 509.73,163.10 510.44,162.47 511.15,162.97 511.85,163.50 512.56,162.43 513.27,162.56 513.98,161.89 514.69,162.28 515.40,162.30 516.12,162.69 516.84,162.84 517.55,162.12 518.27,161.44 518.99,162.93 519.71,160.53 520.43,161.37 521.15,161.09 521.86,161.44 522.58,161.68 523.30,161.30 524.03,160.83 524.77,162.24 525.50,161.91 526.23,161.04 526.97,160.10 527.70,159.32 528.43,160.70 529.17,160.34 529.90,159.70 530.56,159.52 531.23,159.67 531.89,158.70 532.55,157.20 533.21,156.52 533.88,156.97 534.54,156.85 535.20,156.40 535.84,155.94 536.48,154.96 537.12,153.92 537.76,152.78 538.40,152.50 539.07,151.25 539.73,149.82 540.40,147.90 541.05,144.88 541.70,142.60 542.40,140.00 543.40,130.00 544.00,117.00 544.65,107.66 545.30,99.22 545.95,90.13 546.60,82.00 547.10,51.30 547.65,42.18 548.20,32.90 548.80,41.37 549.40,51.30 550.05,66.80 550.70,82.00 551.40,89.90 552.40,90.80 553.00,88.52 553.60,87.30 554.20,87.07 554.80,87.67 555.40,85.90 556.00,85.68 556.60,86.86 557.20,87.30 558.05,89.00 558.90,88.10 559.50,90.34 560.10,91.60 561.00,99.50 561.90,108.30 562.60,112.77 563.30,117.10 563.90,119.70 564.50,121.57 565.10,124.10 565.75,125.21 566.40,126.75 567.05,129.56 567.70,132.00 568.50,132.60 569.30,134.00 570.00,134.83 570.70,134.58 571.40,133.75 572.10,135.15 572.80,134.39 573.50,135.40 574.20,136.39 574.90,135.45 575.60,136.89 576.30,136.80 576.97,136.99 577.65,136.82 578.33,137.90 579.00,137.50 579.66,137.64 580.33,136.82 580.99,138.63 581.65,138.15 582.31,138.77 582.97,139.46 583.64,140.07 584.30,140.00 585.00,140.04 585.70,139.35 586.40,140.00 587.10,138.14 587.80,136.48 588.50,135.60 589.20,134.40 589.90,131.86 590.60,130.59 591.30,127.64 592.00,126.00 592.70,122.97 593.40,119.94 594.10,115.65 594.80,111.90 595.47,107.54 596.13,104.13 596.80,99.30 597.65,95.94 598.50,93.70 599.13,94.54 599.77,96.28 600.40,96.50 601.07,100.05 601.73,102.88 602.40,106.30 603.25,106.78 604.10,107.70 604.77,103.62 605.43,101.03 606.10,96.50 606.73,92.93 607.37,87.97 608.00,82.50 608.77,77.78 609.53,73.25 610.30,68.40 610.90,66.47 611.50,65.60 612.30,67.71 613.10,71.20 613.83,77.17 614.57,82.80 615.30,88.10 615.97,91.04 616.63,94.80 617.30,99.30 617.93,100.85 618.57,101.28 619.20,103.50 620.05,104.53 620.90,104.40 621.57,105.68 622.23,104.97 622.90,106.30 623.75,109.76 624.60,113.70 625.45,118.39 626.30,122.10 627.00,125.10 627.70,126.97 628.40,129.50 629.10,130.07 629.80,130.69 630.50,131.60 631.20,131.17 631.90,130.49 632.60,129.50 633.30,126.15 634.00,122.82 634.70,120.00 635.55,114.63 636.40,109.50 636.95,103.52 637.50,97.90 638.50,101.10 639.40,106.30 640.00,104.44 640.60,103.20 641.35,104.50 642.10,107.40 642.85,112.08 643.60,116.80 644.45,121.96 645.30,126.30 646.10,131.55 646.90,136.80 647.80,139.00 648.45,136.44 649.10,132.60 649.80,127.51 650.50,122.10 651.25,120.37 652.00,117.90 652.65,116.73 653.30,114.70 653.90,96.00 654.80,60.00 655.70,19.60 656.60,60.00 657.50,92.60 658.50,112.60 659.05,108.78 659.60,107.40 660.40,96.80 660.95,100.36 661.50,103.20 662.50,111.60 663.05,111.12 663.60,109.50 664.20,115.80" fill="none" stroke="#000" stroke-width="1.4" stroke-linejoin="round" stroke-opacity="1.0"/>
<polyline points="391.30,244.80 392.06,244.13 392.82,244.76 393.58,243.50 394.34,244.06 395.10,243.50 395.88,242.97 396.65,244.24 397.43,243.91 398.20,244.10 398.84,244.58 399.48,243.97 400.12,243.23 400.76,242.74 401.40,242.60 402.16,242.40 402.92,241.66 403.68,240.74 404.44,241.10 405.20,240.30 405.96,238.80 406.72,239.87 407.48,240.87 408.24,239.79 409.00,239.30 409.76,238.29 410.52,239.42 411.28,238.68 412.04,238.02 412.80,238.10 413.54,237.41 414.28,237.46 415.02,237.49 415.76,236.61 416.50,236.30 417.26,236.69 418.02,234.81 418.78,235.03 419.54,233.14 420.30,233.40 421.06,231.71 421.82,232.08 422.58,231.64 423.34,231.87 424.10,230.20 424.86,229.27 425.62,228.85 426.38,227.27 427.14,227.19 427.90,226.40 428.54,226.10 429.18,224.95 429.82,225.12 430.46,224.70 431.10,223.30 431.73,223.34 432.37,222.69 433.00,222.40 433.63,222.74 434.27,223.62 434.90,223.70 435.52,224.01 436.15,225.95 436.77,225.94 437.40,227.10 438.02,228.05 438.65,228.07 439.27,228.93 439.90,230.20 440.54,230.42 441.18,231.78 441.82,232.16 442.46,232.82 443.10,233.40 443.86,234.46 444.62,233.93 445.38,235.40 446.14,235.10 446.90,235.90 447.61,235.74 448.33,236.25 449.04,237.44 449.76,238.08 450.47,237.19 451.19,237.22 451.90,238.10 452.63,237.48 453.36,238.59 454.09,239.04 454.81,239.25 455.54,239.40 456.27,240.24 457.00,239.70 457.68,239.86 458.37,240.17 459.05,239.92 459.73,239.66 460.42,239.07 461.10,240.43 461.78,240.20 462.47,240.36 463.15,240.43 463.83,240.90 464.52,241.06 465.20,241.10 465.88,239.96 466.56,241.08 467.24,241.61 467.92,241.64 468.60,241.41 469.28,241.72 469.96,240.83 470.64,241.99 471.32,241.73 472.00,242.00 472.68,242.41 473.36,242.21 474.04,241.60 474.72,241.22 475.40,242.40 476.08,242.18 476.76,242.46 477.44,242.62 478.12,243.09 478.80,242.78 479.48,242.77 480.16,241.66 480.84,243.09 481.52,242.79 482.20,243.87 482.88,243.19 483.56,242.39 484.24,242.89 484.92,243.22 485.60,242.90 486.29,242.32 486.97,241.87 487.66,242.94 488.35,242.34 489.03,242.46 489.72,242.55 490.41,242.28 491.09,242.80 491.78,242.46 492.47,242.39 493.15,242.64 493.84,242.08 494.53,241.35 495.21,241.97 495.90,241.90 496.60,241.07 497.30,241.81 498.00,240.94 498.70,241.46 499.40,242.05 500.10,241.63 500.80,240.71 501.50,240.26 502.20,240.69 502.90,241.39 503.60,241.02 504.30,239.77 505.00,240.50 505.68,241.02 506.37,240.75 507.05,241.05 507.74,241.45 508.42,240.28 509.11,241.09 509.79,240.93 510.48,241.47 511.16,240.76 511.85,240.20 512.53,241.11 513.22,241.60 513.90,241.10 514.59,240.80 515.28,240.65 515.98,240.71 516.67,240.39 517.36,240.07 518.05,239.91 518.75,240.79 519.44,239.58 520.13,239.76 520.82,240.13 521.52,239.93 522.21,238.27 522.90,239.00 523.57,238.36 524.23,237.86 524.90,238.24 525.57,236.84 526.23,237.07 526.90,237.53 527.57,237.56 528.23,236.50 528.90,236.90 529.63,236.16 530.37,235.85 531.10,233.74 531.83,234.08 532.57,232.47 533.30,231.60 534.05,225.90 534.80,222.60 535.55,217.49 536.30,212.20 537.05,206.32 537.80,200.30 538.55,198.56 539.30,195.20 540.05,193.63 540.80,192.80 541.55,189.36 542.30,183.90 543.05,177.88 543.80,171.90 544.40,169.26 545.00,166.00 545.60,169.37 546.20,173.23 546.80,176.40 547.50,178.60 548.20,179.40 548.95,176.41 549.70,173.40 550.45,166.42 551.20,160.00 552.00,146.38 552.80,132.00 553.50,116.52 554.20,101.30 554.90,100.40 555.90,111.80 556.55,118.12 557.20,124.10 557.80,116.77 558.40,108.30 559.40,99.50 560.05,105.75 560.70,111.80 561.50,132.00 562.30,161.40 562.85,166.77 563.40,171.70 564.20,172.38 565.00,172.80 565.70,175.72 566.40,178.50 567.20,182.39 568.00,185.30 568.80,187.13 569.60,187.60 570.25,186.63 570.90,185.30 571.70,181.52 572.50,179.60 573.30,176.75 574.10,175.50 574.80,178.01 575.50,179.60 576.30,183.88 577.10,186.50 577.87,189.13 578.63,190.06 579.40,192.20 580.17,193.85 580.93,194.93 581.70,196.70 582.43,196.21 583.17,195.21 583.90,194.50 584.67,192.07 585.43,191.06 586.20,188.80 587.00,186.54 587.80,184.20 588.50,182.54 589.20,178.50 590.00,179.71 590.80,179.60 591.35,179.93 591.90,181.90 592.50,181.26 593.10,179.60 593.65,180.88 594.20,183.10 594.80,182.02 595.40,181.49 596.00,180.80 596.80,179.30 597.60,179.20 598.37,181.40 599.13,181.48 599.90,181.90 600.67,182.57 601.43,184.82 602.20,185.30 602.97,185.61 603.73,189.07 604.50,189.90 605.05,190.54 605.60,191.00 606.20,188.90 606.80,187.01 607.40,184.20 608.20,182.05 609.00,179.60 609.80,182.80 610.60,185.30 611.23,184.08 611.87,184.11 612.50,183.10 613.10,181.07 613.70,179.63 614.30,177.40 615.10,175.58 615.90,173.90 616.70,174.77 617.50,175.10 618.10,177.12 618.70,178.97 619.30,181.90 619.90,184.96 620.50,189.33 621.10,192.20 621.90,193.25 622.70,194.50 623.45,194.70 624.20,194.70 624.90,194.22 625.60,194.57 626.30,193.70 626.85,191.20 627.40,189.50 628.10,188.70 628.80,190.50 629.65,189.66 630.50,189.50 631.05,191.80 631.60,194.70 632.35,194.35 633.10,192.60 633.90,186.45 634.70,181.10 635.55,177.66 636.40,174.70 637.15,177.15 637.90,178.90 638.65,184.67 639.40,189.50 640.25,191.44 641.10,193.70 641.90,197.59 642.70,200.00 643.45,202.46 644.20,205.30 644.95,206.47 645.70,207.40 646.55,206.39 647.40,206.30 648.10,205.97 648.80,207.62 649.50,208.80 650.35,205.69 651.20,203.20 651.90,200.09 652.60,197.90 653.35,198.15 654.10,195.80 654.95,193.92 655.80,193.70 656.65,190.30 657.50,186.30 658.20,186.17 658.90,184.69 659.60,183.20 660.30,182.47 661.00,180.80 661.70,180.00 662.45,178.67 663.20,177.90 664.20,173.70" fill="none" stroke="#000" stroke-width="1.4" stroke-linejoin="round" stroke-opacity="1.0"/>
<ellipse cx="432.65" cy="129.2" rx="3.5" ry="3.9" fill="none" stroke="#1c1cff" stroke-width="1.3"/>
<ellipse cx="546.6" cy="22.7" rx="3.5" ry="3.9" fill="none" stroke="#1c1cff" stroke-width="1.3"/>
<ellipse cx="557.9" cy="72.3" rx="3.5" ry="3.9" fill="none" stroke="#1c1cff" stroke-width="1.3"/>
<ellipse cx="597.8" cy="80.1" rx="3.5" ry="3.9" fill="none" stroke="#1c1cff" stroke-width="1.3"/>
<ellipse cx="609.8" cy="53.1" rx="3.5" ry="3.9" fill="none" stroke="#1c1cff" stroke-width="1.3"/>
<ellipse cx="621.6" cy="89.9" rx="3.5" ry="3.9" fill="none" stroke="#1c1cff" stroke-width="1.3"/>
<ellipse cx="636.9" cy="86.9" rx="3.5" ry="3.9" fill="none" stroke="#1c1cff" stroke-width="1.3"/>
<ellipse cx="655.0" cy="8.0" rx="3.5" ry="3.9" fill="none" stroke="#1c1cff" stroke-width="1.3"/>
<path d="M572.4,160.2 L579.0,167.6 M579.0,160.2 L572.4,167.6" stroke="#ff1a1a" stroke-width="1.15" fill="none"/>
</svg></body></html>
